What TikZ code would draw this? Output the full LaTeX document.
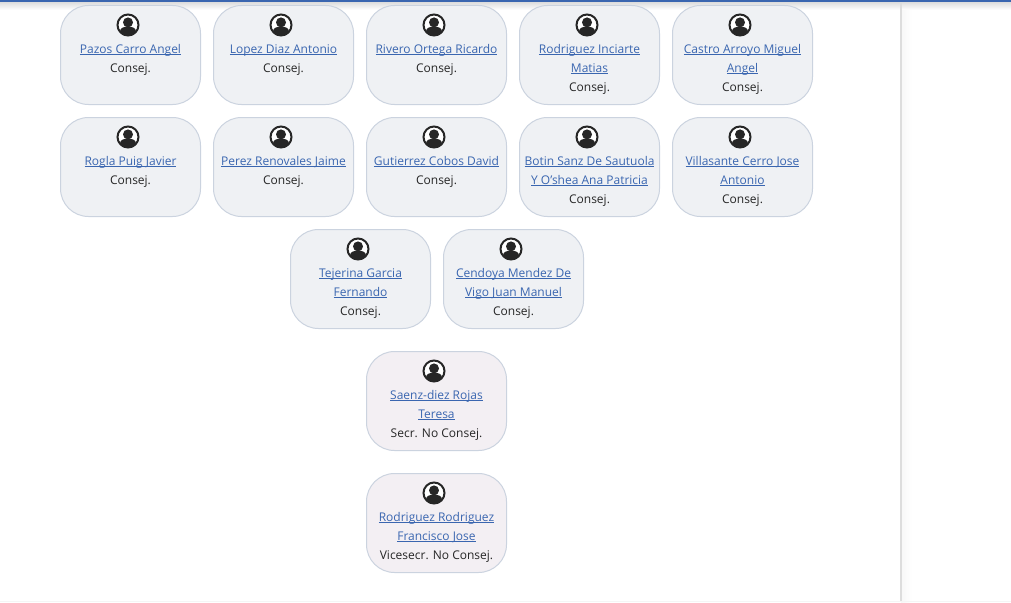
\documentclass[tikz,border=0pt]{standalone}
\usepackage{fontspec}
\setmainfont{Open Sans}
\definecolor{linkblue}{HTML}{3A66B0}
\definecolor{cardline}{HTML}{CBD3DF}
\definecolor{cardfill}{HTML}{EFF1F4}
\definecolor{secrfill}{HTML}{F3EFF3}
\definecolor{sideline}{HTML}{DDDDDD}
\definecolor{topbar}{HTML}{3A66B0}
\newcommand{\lnk}[1]{{\color{linkblue}\setbox0=\hbox{#1}\rlap{\rule[-1.6pt]{\wd0}{0.8pt}}\box0}}
\tikzset{
  card/.style={draw=cardline, line width=1pt, fill=cardfill, rounded corners=28pt, minimum width=140pt, minimum height=99pt, inner sep=0pt},
  secrcard/.style={card, fill=secrfill},
  who/.style={anchor=north, align=center, inner sep=0pt, font=\fontsize{12}{19}\selectfont, text=black!85},
  usericon/.pic={
    \fill [white] (0,0) circle (10.5);
    \draw [black!85, line width=2pt] (0,0) circle (10.5);
    \fill [black!85] (0,-2.6) circle (5);
    \fill [black!85] (-8,6.8) .. controls (-8,2.4) and (-4,1.8) .. (0,1.8) .. controls (4,1.8) and (8,2.4) .. (8,6.8) .. controls (4,11) and (-4,11) .. (-8,6.8);
  }
}
\begin{document}
\begin{tikzpicture}[x=1pt, y=-1pt]
    \useasboundingbox (0,0) rectangle (1011,602);
    % page edges
    \shade [left color=black!3, right color=white] (901,10) rectangle (912,602);
    \shade [top color=black!15, bottom color=white] (0,1) rectangle (1011,10);
    \fill [sideline] (900,0) rectangle (901.5,602);
    \fill [topbar] (0,0) rectangle (1011,1.6);
    \fill [black!4] (0,600.5) rectangle (1011,602);
    % first row
    \node [card] (pazos) at (130.5,55) {};
    \pic at (128,25) {usericon};
    \node [who] (pazostxt) at (130.5,44) {\lnk{Pazos Carro Angel}\\Consej.};
    \node [card] (lopez) at (283.5,55) {};
    \pic at (281,25) {usericon};
    \node [who] (lopeztxt) at (283.5,44) {\lnk{Lopez Diaz Antonio}\\Consej.};
    \node [card] (rivero) at (436.5,55) {};
    \pic at (434,25) {usericon};
    \node [who] (riverotxt) at (436.5,44) {\lnk{Rivero Ortega Ricardo}\\Consej.};
    \node [card] (inciarte) at (589.5,55) {};
    \pic at (587,25) {usericon};
    \node [who] (inciartetxt) at (589.5,44) {\lnk{Rodriguez Inciarte}\\\lnk{Matias}\\Consej.};
    \node [card] (castro) at (742.5,55) {};
    \pic at (740,25) {usericon};
    \node [who] (castrotxt) at (742.5,44) {\lnk{Castro Arroyo Miguel}\\\lnk{Angel}\\Consej.};
    % second row
    \node [card] (rogla) at (130.5,167) {};
    \pic at (128,137) {usericon};
    \node [who] (roglatxt) at (130.5,156) {\lnk{Rogla Puig Javier}\\Consej.};
    \node [card] (perez) at (283.5,167) {};
    \pic at (281,137) {usericon};
    \node [who] (pereztxt) at (283.5,156) {\lnk{Perez Renovales Jaime}\\Consej.};
    \node [card] (gutierrez) at (436.5,167) {};
    \pic at (434,137) {usericon};
    \node [who] (gutierreztxt) at (436.5,156) {\lnk{Gutierrez Cobos David}\\Consej.};
    \node [card] (botin) at (589.5,167) {};
    \pic at (587,137) {usericon};
    \node [who] (botintxt) at (589.5,156) {\lnk{Botin Sanz De Sautuola}\\\lnk{Y O'shea Ana Patricia}\\Consej.};
    \node [card] (villasante) at (742.5,167) {};
    \pic at (740,137) {usericon};
    \node [who] (villasantetxt) at (742.5,156) {\lnk{Villasante Cerro Jose}\\\lnk{Antonio}\\Consej.};
    % third row
    \node [card] (tejerina) at (360.5,279) {};
    \pic at (358,249) {usericon};
    \node [who] (tejerinatxt) at (360.5,268) {\lnk{Tejerina Garcia}\\\lnk{Fernando}\\Consej.};
    \node [card] (cendoya) at (513.5,279) {};
    \pic at (511,249) {usericon};
    \node [who] (cendoyatxt) at (513.5,268) {\lnk{Cendoya Mendez De}\\\lnk{Vigo Juan Manuel}\\Consej.};
    % secretaries
    \node [secrcard] (saenz) at (436.5,401) {};
    \pic at (434,371) {usericon};
    \node [who] (saenztxt) at (436.5,390) {\lnk{Saenz-diez Rojas}\\\lnk{Teresa}\\Secr. No Consej.};
    \node [secrcard] (francisco) at (436.5,523) {};
    \pic at (434,493) {usericon};
    \node [who] (franciscotxt) at (436.5,512) {\lnk{Rodriguez Rodriguez}\\\lnk{Francisco Jose}\\Vicesecr. No Consej.};
\end{tikzpicture}
\end{document}
